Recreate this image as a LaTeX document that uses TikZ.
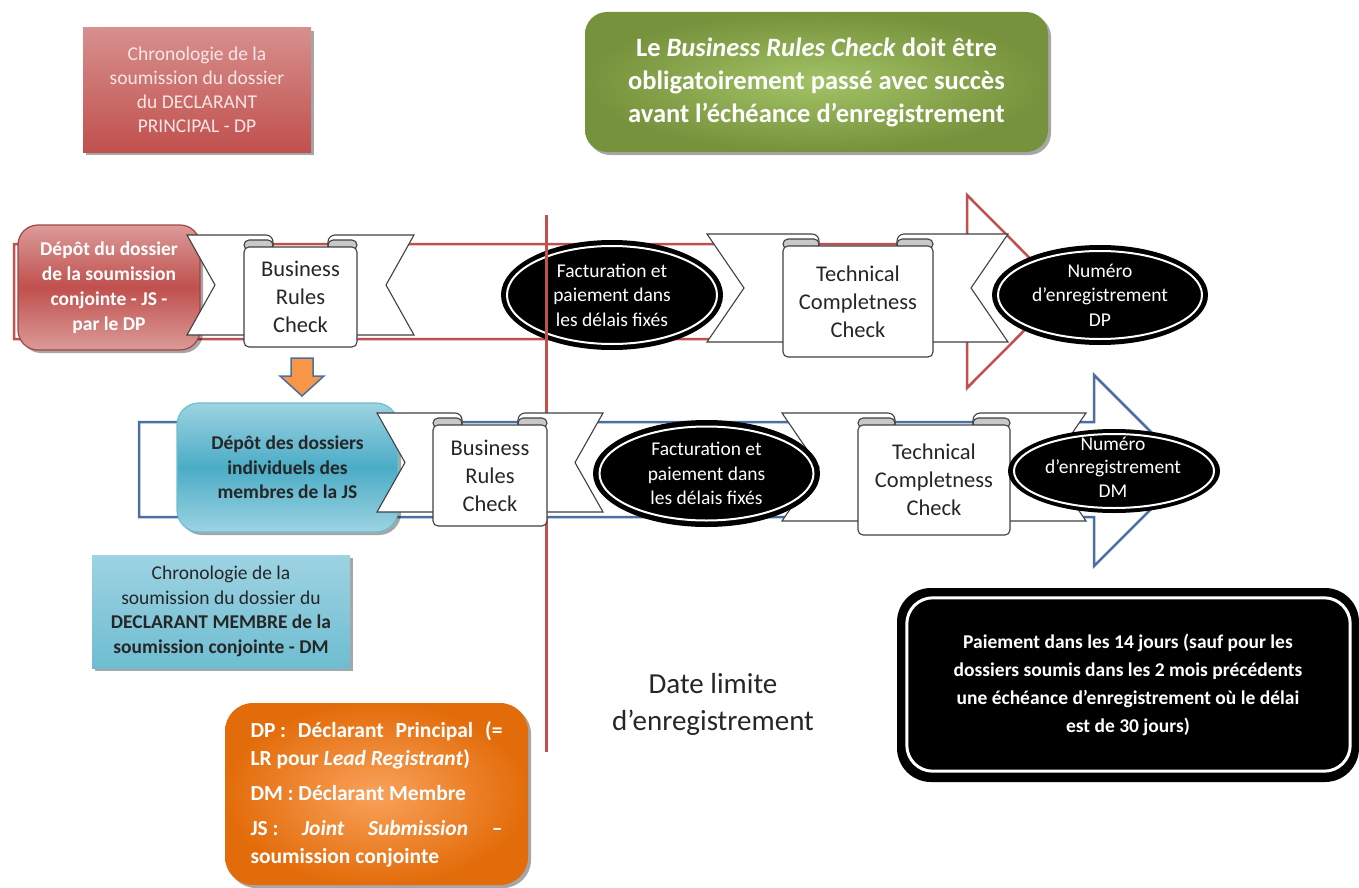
\documentclass[tikz,border=0pt]{standalone}
\usepackage{fontspec}
\setmainfont{Carlito}
\usetikzlibrary{shapes.geometric,shadows}
\setlength{\parindent}{0pt}
\definecolor{redA}{HTML}{C0504D}
\definecolor{redL}{HTML}{DB9B99}
\definecolor{redT}{HTML}{F8E6E5}
\definecolor{blueA}{HTML}{4BACC6}
\definecolor{blueL}{HTML}{9DD3E2}
\definecolor{blueB}{HTML}{4A6FA5}
\definecolor{greenD}{HTML}{76923C}
\definecolor{greenL}{HTML}{A3C266}
\definecolor{orangeD}{HTML}{E36C0A}
\definecolor{orangeL}{HTML}{F9A25B}
\definecolor{orangeA}{HTML}{F79646}
\definecolor{ribgray}{HTML}{404040}
\definecolor{curlgray}{HTML}{C8C8C8}
\begin{document}
\begin{tikzpicture}[x=1pt,y=-1pt,
  panel/.style={draw=ribgray, fill=white, rounded corners=5pt, line width=1.1pt, align=center, inner sep=0pt, font=\fontsize{22.5}{28}\selectfont, text=black!85},
  tail/.style={draw=ribgray, fill=white, line width=1.1pt},
  curl/.style={draw=ribgray, fill=curlgray, line width=1.1pt, rounded corners=5pt},
  blackell/.style={ellipse, fill=black, inner sep=0pt, text=white, align=center, font=\fontsize{19.5}{24.5}\selectfont},
  ring/.style={draw=white, line width=2pt},
  softshadow/.style={drop shadow={opacity=0.35, shadow xshift=3pt, shadow yshift=-3pt, fill=black}},
  band/.style={line width=2.5pt, fill=white},
]
\useasboundingbox (0,0) rectangle (1359,888);

% top notes
\node[rectangle, minimum width=228pt, minimum height=124pt, top color=redL!85!redA, bottom color=redA, text=redT, align=center, font=\fontsize{19.5}{24}\selectfont, softshadow] (chronoDP) at (197,90) {Chronologie de la\\soumission du dossier\\du DECLARANT\\PRINCIPAL - DP};

\node[rounded corners=22pt, minimum width=463pt, minimum height=140pt, inner color=greenL, outer color=greenD, text=white, align=center, font=\bfseries\fontsize{26.5}{33}\selectfont, softshadow] (brcnote) at (816.5,82) {Le \textit{Business Rules Check} doit être\\obligatoirement passé avec succès\\avant l’échéance d’enregistrement};

% row 1 band
\draw[band, draw=redA] (14,244) -- (967,244) -- (967,195) -- (1063,291.5) -- (967,388) -- (967,339) -- (14,339) -- cycle;

\node[rounded corners=20pt, minimum width=182pt, minimum height=125pt, top color=redL, bottom color=redL, middle color=redA, draw=redA!85!black, line width=1.2pt, text=white, align=center, font=\bfseries\fontsize{19.5}{25}\selectfont, softshadow] (depotDP) at (109,287.5) {Dépôt du dossier\\de la soumission\\conjointe - JS -\\par le DP};

% ribbon 1
\draw[tail] (215,285) -- (187,235) [rounded corners=7pt] -- (273,235) -- (273,300) [sharp corners] -- (273,335) -- (187,335) -- cycle;
\draw[tail] (386,285) -- (414,235) [rounded corners=7pt] -- (328,235) -- (328,300) [sharp corners] -- (328,335) -- (414,335) -- cycle;
\draw[curl] (244,240) rectangle (273,250);
\draw[curl] (328,240) rectangle (357,250);
\node[panel, minimum width=113pt, minimum height=100pt] (brc1) at (300.5,297) {Business\\Rules\\Check};

% ellipse 1
\node[blackell, minimum width=222pt, minimum height=110pt] (fact1) at (612,295) {Facturation et\\paiement dans\\les délais fixés};
\draw[ring] (fact1.center) ellipse [x radius=105, y radius=49];

% ribbon 2
\draw[tail] (744,288) -- (707,234) [rounded corners=7pt] -- (819,234) -- (819,300) [sharp corners] -- (819,342) -- (707,342) -- cycle;
\draw[tail] (971,288) -- (1008,234) [rounded corners=7pt] -- (897,234) -- (897,300) [sharp corners] -- (897,342) -- (1008,342) -- cycle;
\draw[curl] (783,239) rectangle (819,249);
\draw[curl] (897,239) rectangle (933,249);
\node[panel, minimum width=150pt, minimum height=111pt] (tcc1) at (858,301.5) {Technical\\Completness\\Check};

% ellipse DP
\node[blackell, minimum width=216pt, minimum height=100pt] (numDP) at (1100,295) {Numéro\\d’enregistrement\\DP};
\draw[ring] (numDP.center) ellipse [x radius=102, y radius=44];

% deadline line
\draw[redA, line width=3pt] (546,215) -- (546,752);

% row 2 band
\draw[band, draw=blueB] (139,422) -- (1094,422) -- (1094,375) -- (1189.5,470.5) -- (1094,566) -- (1094,517) -- (139,517) -- cycle;

% down arrow
\draw[fill=orangeA, draw=blueB, line width=1.5pt] (291,358) -- (313,358) -- (313,376) -- (324,376) -- (302,396) -- (280,376) -- (291,376) -- cycle;

\node[rounded corners=22pt, minimum width=221pt, minimum height=129pt, top color=blueL, bottom color=blueL, middle color=blueA, draw=blueA!80!white, line width=1.2pt, text=black!85, align=center, font=\bfseries\fontsize{19.5}{24.5}\selectfont, softshadow] (depotDM) at (287.5,467.5) {Dépôt des dossiers\\individuels des\\membres de la JS};

% ribbon 3
\draw[tail] (405,462.5) -- (377,413) [rounded corners=7pt] -- (462,413) -- (462,470) [sharp corners] -- (462,512) -- (377,512) -- cycle;
\draw[tail] (575,462.5) -- (603,413) [rounded corners=7pt] -- (518,413) -- (518,470) [sharp corners] -- (518,512) -- (603,512) -- cycle;
\draw[curl] (433,418) rectangle (462,428);
\draw[curl] (518,418) rectangle (547,428);
\node[panel, minimum width=114pt, minimum height=101pt] (brc2) at (490,475.5) {Business\\Rules\\Check};

% ribbon 4
\draw[tail] (819,467) -- (782,413) [rounded corners=7pt] -- (895,413) -- (895,470) [sharp corners] -- (895,521) -- (782,521) -- cycle;
\draw[tail] (1049,467) -- (1086,413) [rounded corners=7pt] -- (973,413) -- (973,470) [sharp corners] -- (973,521) -- (1086,521) -- cycle;
\draw[curl] (858,418) rectangle (895,428);
\draw[curl] (973,418) rectangle (1010,428);
\node[panel, minimum width=152pt, minimum height=110pt] (tcc2) at (934,480) {Technical\\Completness\\Check};

% ellipse 3
\node[blackell, minimum width=227pt, minimum height=107pt] (fact2) at (706.5,473.5) {Facturation et\\paiement dans\\les délais fixés};
\draw[ring] (fact2.center) ellipse [x radius=107, y radius=47];

% ellipse DM
\node[ellipse, fill=black, inner sep=0pt, minimum width=212pt, minimum height=84pt] (numDM) at (1114,471) {};
\draw[ring] (numDM.center) ellipse [x radius=100, y radius=37];
\node[text=white, align=center, inner sep=0pt, font=\fontsize{19.5}{23.5}\selectfont] (numDMt) at (1113,467) {Numéro\\d’enregistrement\\DM};

% bottom notes
\node[rectangle, minimum width=258pt, minimum height=113pt, top color=blueL, bottom color=blueA!80!white, text=black!85, align=center, font=\fontsize{19.5}{24.5}\selectfont, softshadow] (chronoDM) at (221,611.5) {Chronologie de la\\soumission du dossier du\\\textbf{DECLARANT MEMBRE de la}\\\textbf{soumission conjointe - DM}};

\node[align=center, inner sep=0pt, font=\fontsize{29}{37}\selectfont, text=black!85] (dlimit) at (713,704) {Date limite\\d’enregistrement};

\node[rounded corners=28pt, minimum width=303pt, minimum height=182pt, inner color=orangeL, outer color=orangeD, text=white, text width=252pt, align=justify, font=\bfseries\fontsize{21.5}{28}\selectfont, softshadow] (legend) at (376.5,794) {DP\hspace{0.22em}: Déclarant Principal (=\linebreak LR pour \textit{Lead Registrant})\par\vspace{7pt}DM : Déclarant Membre\par\vspace{7pt}JS\hspace{0.22em}: \textit{Joint Submission} –\linebreak soumission conjointe};

\node[rounded corners=34pt, fill=black, minimum width=462pt, minimum height=194pt, text=white, align=center, font=\bfseries\fontsize{19.5}{28}\selectfont] (paybox) at (1128,685) {Paiement dans les 14 jours (sauf pour les\\dossiers soumis dans les 2 mois précédents\\une échéance d’enregistrement où le délai\\est de 30 jours)};
\draw[white, line width=3pt, rounded corners=26pt] (paybox.north west) ++(10,10) rectangle ([shift={(-9,-11)}]paybox.south east);
\end{tikzpicture}
\end{document}
